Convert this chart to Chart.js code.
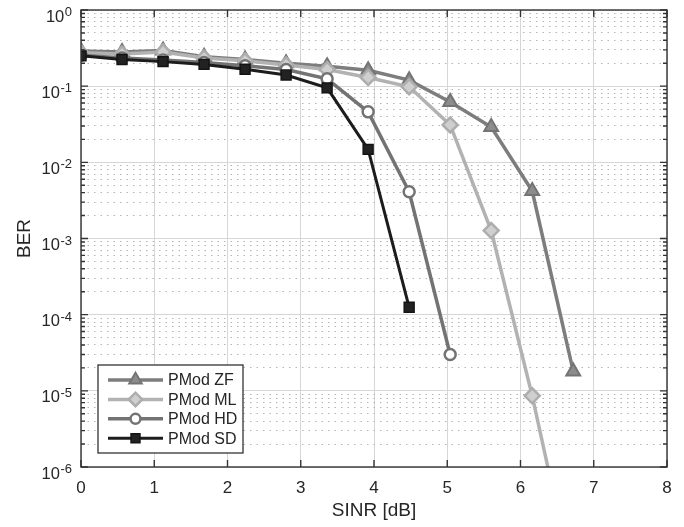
<!DOCTYPE html>
<html>
<head>
<meta charset="utf-8">
<script src="https://cdn.jsdelivr.net/npm/chart.js@4"></script>
<style>
  html, body { margin: 0; padding: 0; background: #fff; }
  #wrap { width: 684px; height: 527px; }
</style>
</head>
<body>
<div id="wrap"><canvas id="berChart" width="684" height="527"></canvas></div>
<script>
// values
var sinr  = [0, 0.56, 1.12, 1.68, 2.24, 2.8, 3.36, 3.92, 4.48, 5.04, 5.6, 6.16, 6.72];
var berZF = [0.29, 0.28, 0.295, 0.243, 0.224, 0.20, 0.183, 0.162, 0.12, 0.062, 0.029, 0.0042, 1.8e-5];
var berML = [0.275, 0.265, 0.28, 0.235, 0.215, 0.19, 0.165, 0.13, 0.098, 0.031, 0.00127, 8.6e-6, 3e-8];
var berHD = [0.255, 0.235, 0.22, 0.205, 0.185, 0.165, 0.125, 0.046, 0.0041, 3.0e-5];
var berSD = [0.25, 0.224, 0.21, 0.193, 0.167, 0.14, 0.095, 0.0148, 1.25e-4];
var seriesNames = ['PMod ZF', 'PMod ML', 'PMod HD', 'PMod SD'];
var xTicks = [0, 1, 2, 3, 4, 5, 6, 7, 8];
var yDecades = [-6, -5, -4, -3, -2, -1, 0];

var FONT = "'Liberation Sans', Arial, sans-serif";
var TXT = '#262626';
Chart.defaults.font.family = FONT;
Chart.defaults.color = TXT;

function pts(ys) {
    return ys.map(function (v, i) { return { x: sinr[i], y: v }; });
}

var minorVals = [];
yDecades.forEach(function (e) {
    if (e >= 0) return;
    for (var m = 2; m <= 9; m++) minorVals.push(m * Math.pow(10, e));
});

// labels like 10^-3 with a raised exponent
var yLabels = {
    id: 'yLabels',
    afterDraw: function (chart) {
        var ctx = chart.ctx, ys = chart.scales.y;
        var right = chart.chartArea.left - 9;
        ctx.save();
        ctx.fillStyle = TXT;
        ctx.textAlign = 'right';
        ctx.textBaseline = 'alphabetic';
        yDecades.forEach(function (e) {
            var py = ys.getPixelForValue(Math.pow(10, e));
            var ex = String(e);
            ctx.font = '13px ' + FONT;
            ctx.fillText(ex, right, py + 6);
            var w = ctx.measureText(ex).width;
            ctx.font = '16.5px ' + FONT;
            ctx.fillText('10', right - w - 0.5, py + 11.5);
        });
        ctx.restore();
    }
};

// axes box with inward tick marks
var boxTicks = {
    id: 'boxTicks',
    afterDraw: function (chart) {
        var ctx = chart.ctx, a = chart.chartArea;
        var xs = chart.scales.x, ys = chart.scales.y;
        ctx.save();
        ctx.strokeStyle = '#333333';
        ctx.lineWidth = 1.4;
        ctx.beginPath();
        xTicks.forEach(function (v) {
            var px = xs.getPixelForValue(v);
            ctx.moveTo(px, a.bottom); ctx.lineTo(px, a.bottom - 7);
            ctx.moveTo(px, a.top); ctx.lineTo(px, a.top + 7);
        });
        yDecades.forEach(function (e) {
            var py = ys.getPixelForValue(Math.pow(10, e));
            ctx.moveTo(a.left, py); ctx.lineTo(a.left + 7, py);
            ctx.moveTo(a.right, py); ctx.lineTo(a.right - 7, py);
        });
        minorVals.forEach(function (v) {
            var py = ys.getPixelForValue(v);
            ctx.moveTo(a.left, py); ctx.lineTo(a.left + 4, py);
            ctx.moveTo(a.right, py); ctx.lineTo(a.right - 4, py);
        });
        ctx.stroke();
        ctx.strokeRect(a.left, a.top, a.right - a.left, a.bottom - a.top);
        ctx.restore();
    }
};

// matlab style legend in the lower left corner
var innerLegend = {
    id: 'innerLegend',
    afterDraw: function (chart) {
        var ctx = chart.ctx, a = chart.chartArea;
        var bx = a.left + 17, bw = 145, bh = 88, by = a.bottom - 14 - bh;
        ctx.save();
        ctx.fillStyle = '#fff';
        ctx.fillRect(bx, by, bw, bh);
        ctx.strokeStyle = '#333333';
        ctx.lineWidth = 1.3;
        ctx.strokeRect(bx, by, bw, bh);
        chart.data.datasets.forEach(function (ds, row) {
            var cy = by + 15 + row * 19.4;
            ctx.strokeStyle = ds.borderColor;
            ctx.lineWidth = ds.borderWidth;
            ctx.beginPath();
            ctx.moveTo(bx + 10, cy);
            ctx.lineTo(bx + 65, cy);
            ctx.stroke();
            ctx.fillStyle = ds.pointBackgroundColor;
            ctx.strokeStyle = ds.pointBorderColor;
            ctx.lineWidth = ds.pointBorderWidth;
            Chart.helpers.drawPoint(ctx, {
                pointStyle: ds.pointStyle, radius: ds.pointRadius * 0.9, borderWidth: ds.pointBorderWidth, rotation: 0
            }, bx + 37.5, cy);
            ctx.fillStyle = TXT;
            ctx.font = '16px ' + FONT;
            ctx.textAlign = 'left';
            ctx.textBaseline = 'middle';
            ctx.fillText(ds.label, bx + 70, cy + 1);
        });
        ctx.restore();
    }
};

var ctx = document.getElementById('berChart').getContext('2d');
var berChart = new Chart(ctx, {
    type: 'line',
    data: {
        datasets: [
            {
                label: seriesNames[0], data: pts(berZF), order: 4,
                borderColor: '#7d7d7d', borderWidth: 3.5,
                pointStyle: 'triangle', pointRadius: 8, pointBorderWidth: 2,
                pointBackgroundColor: '#8c8c8c', pointBorderColor: '#747474'
            },
            {
                label: seriesNames[1], data: pts(berML), order: 3,
                borderColor: '#b2b2b2', borderWidth: 3.5,
                pointStyle: 'rectRot', pointRadius: 7.5, pointBorderWidth: 2.5,
                pointBackgroundColor: '#cfcfcf', pointBorderColor: '#adadad'
            },
            {
                label: seriesNames[2], data: pts(berHD), order: 2,
                borderColor: '#737373', borderWidth: 3.5,
                pointStyle: 'circle', pointRadius: 5.5, pointBorderWidth: 2.5,
                pointBackgroundColor: '#ffffff', pointBorderColor: '#737373'
            },
            {
                label: seriesNames[3], data: pts(berSD), order: 1,
                borderColor: '#1c1c1c', borderWidth: 3,
                pointStyle: 'rect', pointRadius: 7, pointBorderWidth: 1.5,
                pointBackgroundColor: '#222222', pointBorderColor: '#141414'
            }
        ]
    },
    options: {
        responsive: false,
        animation: false,
        layout: { padding: { top: 10, right: 17, left: 0, bottom: 0 } },
        plugins: { legend: { display: false }, tooltip: { enabled: false } },
        elements: { line: { tension: 0 } },
        scales: {
            x: {
                type: 'linear', min: 0, max: 8,
                afterBuildTicks: function (s) { s.ticks = xTicks.map(function (v) { return { value: v }; }); },
                afterFit: function (s) { s.height = 60; },
                ticks: { color: TXT, font: { size: 17 }, padding: 11, maxRotation: 0, autoSkip: false },
                grid: { color: '#d6d6d6', lineWidth: 1, drawTicks: false },
                border: { display: false },
                title: { display: true, text: 'SINR [dB]', color: TXT, font: { size: 19 }, padding: { top: 0, bottom: 5 } }
            },
            y: {
                type: 'logarithmic', position: 'left', min: 1e-6, max: 1,
                afterBuildTicks: function (s) { s.ticks = yDecades.map(function (e) { return { value: Math.pow(10, e) }; }); },
                afterFit: function (s) { s.width = 81; },
                ticks: { display: false },
                grid: { color: '#d6d6d6', lineWidth: 1, drawTicks: false },
                border: { display: false },
                title: { display: true, text: 'BER', color: TXT, font: { size: 19 }, padding: { top: 13, bottom: 0 } }
            },
            yMinor: {
                type: 'logarithmic', position: 'left', min: 1e-6, max: 1,
                afterBuildTicks: function (s) { s.ticks = minorVals.map(function (v) { return { value: v }; }); },
                afterFit: function (s) { s.width = 0; },
                ticks: { display: false },
                grid: { color: '#b4b4b4', lineWidth: 1, drawTicks: false },
                border: { display: false, dash: [1.5, 5] }
            }
        }
    },
    plugins: [yLabels, boxTicks, innerLegend]
});
</script>
</body>
</html>
